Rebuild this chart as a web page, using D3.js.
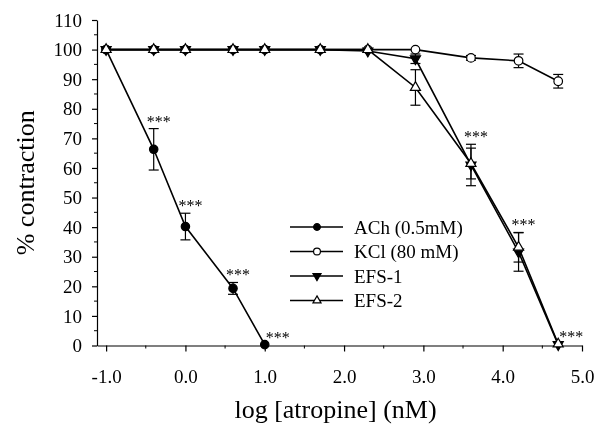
<!DOCTYPE html>
<html>
<head>
<meta charset="utf-8">
<script src="https://cdn.jsdelivr.net/npm/d3@7"></script>
<style>
  body { margin: 0; background: #fff; }
  svg { filter: grayscale(1); }
  text { font-family: "Liberation Serif", "Times New Roman", serif; fill: #000; }
</style>
</head>
<body>
<div id="chart"></div>
<script>
// log [atropine] (nM) doses
var logDose = [-1.0, -0.4, 0.0, 0.6, 1.0, 1.7, 2.3, 2.9, 3.6, 4.2, 4.7];

// % contraction, mean and SEM per series
var achMean = [100, 66.3, 40.2, 19.3, 0.3];
var achErr  = [0, 7.0, 4.5, 2.0, 0];
var kclMean = [100, 100, 100, 100, 100, 100, 100, 100, 97.2, 96.2, 89.3];
var kclErr  = [0, 0, 0, 0, 0, 0, 0, 0, 0.8, 2.3, 2.3];
var efs1Mean = [100, 100, 100, 100, 100, 100, 99.5, 96.9, 61.0, 31.6, 0.3];
var efs1Err  = [0, 0, 0, 0, 0, 0, 0, 1.6, 7.0, 6.5, 0];
var efs2Mean = [100, 100, 100, 100, 100, 100, 100, 87.2, 61.5, 33.2, 0.5];
var efs2Err  = [0, 0, 0, 0, 0, 0, 0, 6.0, 5.2, 5.0, 0];

var seriesNames = ["ACh (0.5mM)", "KCl (80 mM)", "EFS-1", "EFS-2"];
// *** marks: ACh doses, then EFS doses
var achStars = [-0.4, 0.0, 0.6, 1.0];
var efsStars = [3.6, 4.2, 4.7];

var xTicks = [-1, 0, 1, 2, 3, 4, 5];
var xMinor = [-0.5, 0.5, 1.5, 2.5, 3.5, 4.5];
var yTicks = [0, 10, 20, 30, 40, 50, 60, 70, 80, 90, 100, 110];
var yMinor = [5, 15, 25, 35, 45, 55, 65, 75, 85, 95, 105];

var width = 596, height = 425;

function makeSeries(name, means, errs, marker) {
  return {
    name: name,
    marker: marker,
    values: means.map(function (m, i) {
      return {x: logDose[i], y: m, e: errs[i]};
    })
  };
}

var series = [
  makeSeries(seriesNames[0], achMean, achErr, "dot"),
  makeSeries(seriesNames[1], kclMean, kclErr, "circle"),
  makeSeries(seriesNames[2], efs1Mean, efs1Err, "down"),
  makeSeries(seriesNames[3], efs2Mean, efs2Err, "up")
];

var x = d3.scaleLinear().domain([-1.115, 5]).range([97, 582]);
var y = d3.scaleLinear().domain([0, 110]).range([345.5, 20]);

var svg = d3.select("#chart").append("svg")
  .attr("width", width)
  .attr("height", height);

// axes
var xAxis = svg.append("g")
  .attr("transform", "translate(0," + y(0) + ")")
  .call(d3.axisBottom(x).tickValues(xTicks).tickSize(6).tickSizeOuter(0)
    .tickPadding(18).tickFormat(function (d) { return d.toFixed(1); }));

xAxis.selectAll(".minor")
  .data(xMinor).enter().append("line")
  .attr("class", "minor")
  .attr("x1", function (d) { return x(d); })
  .attr("x2", function (d) { return x(d); })
  .attr("y1", 0).attr("y2", 3)
  .attr("stroke", "#000");

var yAxis = svg.append("g")
  .attr("transform", "translate(" + x.range()[0] + ",0)")
  .call(d3.axisLeft(y).tickValues(yTicks).tickSize(5).tickSizeOuter(0).tickPadding(10));

yAxis.selectAll(".minor")
  .data(yMinor).enter().append("line")
  .attr("class", "minor")
  .attr("y1", function (d) { return y(d); })
  .attr("y2", function (d) { return y(d); })
  .attr("x1", 0).attr("x2", -3)
  .attr("stroke", "#000");

svg.selectAll(".tick text")
  .style("font-size", "19px")
  .style("font-family", "'Liberation Serif', serif");
svg.selectAll(".domain, .tick line").attr("stroke", "#000").attr("stroke-width", 1.2);

// axis titles
svg.append("text")
  .attr("x", (x.range()[0] + x.range()[1]) / 2 - 4)
  .attr("y", 418)
  .attr("text-anchor", "middle")
  .style("font-size", "26px")
  .text("log [atropine] (nM)");

svg.append("text")
  .attr("transform", "translate(34," + (y.range()[0] + y.range()[1]) / 2 + ") rotate(-90)")
  .attr("text-anchor", "middle")
  .style("font-size", "26px")
  .text("% contraction");

// lines
var line = d3.line()
  .x(function (d) { return x(d.x); })
  .y(function (d) { return y(d.y); });

svg.selectAll("path.series")
  .data(series).enter().append("path")
  .attr("class", "series")
  .attr("d", function (d) { return line(d.values); })
  .attr("fill", "none")
  .attr("stroke", "#000")
  .attr("stroke-width", 1.6);

// error bars
var bars = [];
series.forEach(function (s) {
  s.values.forEach(function (v) { if (v.e > 0) bars.push(v); });
});

var eb = svg.selectAll("g.err").data(bars).enter().append("g")
  .attr("class", "err")
  .attr("stroke", "#000")
  .attr("stroke-width", 1.2);
eb.append("line")
  .attr("x1", function (d) { return x(d.x); })
  .attr("x2", function (d) { return x(d.x); })
  .attr("y1", function (d) { return y(d.y - d.e); })
  .attr("y2", function (d) { return y(d.y + d.e); });
eb.append("line")
  .attr("x1", function (d) { return x(d.x) - 5; })
  .attr("x2", function (d) { return x(d.x) + 5; })
  .attr("y1", function (d) { return y(d.y + d.e); })
  .attr("y2", function (d) { return y(d.y + d.e); });
eb.append("line")
  .attr("x1", function (d) { return x(d.x) - 5; })
  .attr("x2", function (d) { return x(d.x) + 5; })
  .attr("y1", function (d) { return y(d.y - d.e); })
  .attr("y2", function (d) { return y(d.y - d.e); });

// markers
function drawMarker(sel, kind, scale) {
  if (kind === "dot" || kind === "circle") {
    sel.append("circle")
      .attr("r", (kind === "dot" ? 4.2 : 4.3) * scale)
      .attr("fill", kind === "dot" ? "#000" : "#fff")
      .attr("stroke", "#000")
      .attr("stroke-width", 1.2);
  } else {
    sel.append("path")
      .attr("d", d3.symbol().type(d3.symbolTriangle).size(44 * scale * scale)())
      .attr("transform", kind === "down" ? "rotate(180)" : null)
      .attr("fill", kind === "down" ? "#000" : "#fff")
      .attr("stroke", "#000")
      .attr("stroke-width", 1.2);
  }
}

series.forEach(function (s) {
  svg.append("g").selectAll("g")
    .data(s.values).enter().append("g")
    .attr("transform", function (d) {
      return "translate(" + x(d.x) + "," + y(d.y) + ")";
    })
    .each(function () { drawMarker(d3.select(this), s.marker, 1); });
});

// significance stars, placed above the error bars of the series they mark
var stars = achStars.map(function (d) { return {x: d, group: [series[0]]}; })
  .concat(efsStars.map(function (d) { return {x: d, group: [series[2], series[3]]}; }));

svg.selectAll("text.star")
  .data(stars).enter().append("text")
  .attr("class", "star")
  .attr("text-anchor", "middle")
  .style("font-size", "16px")
  .each(function (st) {
    var top = 0, low = true;
    st.group.forEach(function (s) {
      s.values.forEach(function (v) {
        if (v.x === st.x) {
          top = Math.max(top, v.y + v.e);
          if (v.y > 2) low = false;
        }
      });
    });
    d3.select(this)
      .attr("x", x(st.x) + (low ? 13 : 5))
      .attr("y", y(top) - 2);
  })
  .text("***");

// legend
var legend = svg.append("g").attr("transform", "translate(290,227)");
var rows = legend.selectAll("g").data(series).enter().append("g")
  .attr("transform", function (d, i) { return "translate(0," + i * 24.5 + ")"; });
rows.append("line")
  .attr("x1", 0).attr("x2", 53)
  .attr("stroke", "#000")
  .attr("stroke-width", 1.6);
rows.append("g")
  .attr("transform", "translate(27,0)")
  .each(function (d) { drawMarker(d3.select(this), d.marker, 0.8); });
rows.append("text")
  .attr("x", 64)
  .attr("y", 6.5)
  .style("font-size", "19px")
  .text(function (d) { return d.name; });
</script>
</body>
</html>
